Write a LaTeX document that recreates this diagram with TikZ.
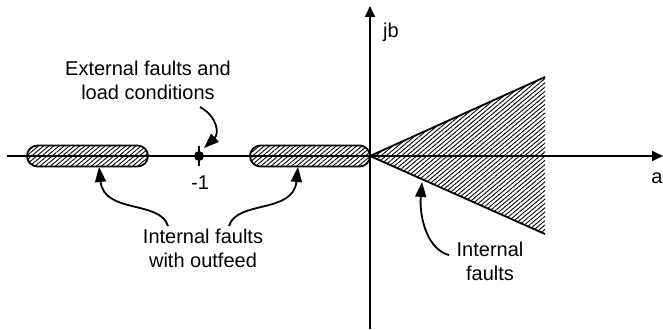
\documentclass[tikz,border=0pt]{standalone}
\usepackage{fontspec}
\setmainfont{Liberation Sans}
\usetikzlibrary{arrows.meta,patterns.meta}
\begin{document}
\begin{tikzpicture}[x=1pt,y=-1pt,
  lbl/.style={inner sep=0pt,align=center,font=\fontsize{20}{24}\selectfont},
  axis/.style={line width=1.8pt,-{Triangle[length=11pt,width=10pt]}},
  hatched/.style={pattern={Lines[angle=40,distance=3.3pt,line width=0.9pt]}},
  curvearrow/.style={line width=1.8pt,-{Triangle[length=15pt,width=11pt]}},
  edge/.style={line width=1.8pt}]
\useasboundingbox (0,0) rectangle (663,329);
% regions
\node[draw,edge,hatched,rounded corners=10.5pt,minimum width=121pt,minimum height=21pt,inner sep=0pt] (pillL) at (87.5,156) {};
\node[draw,edge,hatched,rounded corners=10.5pt,minimum width=120pt,minimum height=21pt,inner sep=0pt] (pillR) at (310,156) {};
\coordinate (O) at (370,156);
\coordinate (W1) at (545,77);
\coordinate (W2) at (545,234);
\fill[hatched] (O) -- (W1) -- (W2) -- cycle;
\draw[edge] (W1) -- (O) -- (W2);
% axes
\coordinate (xs) at (7,156);
\coordinate (xe) at (663,156);
\coordinate (ys) at (370,329);
\coordinate (ye) at (370,6);
\draw[axis] (xs) -- (xe);
\draw[axis] (ys) -- (ye);
\node[lbl] (jb) at (391,32) {jb};
\node[lbl] (a) at (657,178) {a};
% point -1
\node[circle,fill,inner sep=0pt,minimum size=10pt] (m1) at (199,156) {};
\draw[edge] (199,146) -- (199,166);
\node[lbl] (m1l) at (200,183) {-1};
% labels
\node[lbl] (ext) at (148,80) {External faults and\\load conditions};
\node[lbl] (iout) at (203,248) {Internal faults\\with outfeed};
\node[lbl] (iint) at (490,261) {Internal\\faults};
% arrows
\coordinate (extS) at (200,107);
\coordinate (extT) at (204,148);
\draw[curvearrow] (extS) .. controls (218,117) and (219,134) .. (extT);
\coordinate (oLS) at (168,226);
\coordinate (oLT) at (99,167);
\draw[curvearrow] (oLS) .. controls (160,200) and (104,214) .. (oLT);
\coordinate (oRS) at (229,226);
\coordinate (oRT) at (298,167);
\draw[curvearrow] (oRS) .. controls (237,200) and (293,214) .. (oRT);
\coordinate (iS) at (449,255);
\coordinate (iT) at (422,182);
\draw[curvearrow] (iS) .. controls (428,250) and (419,218) .. (iT);
\end{tikzpicture}
\end{document}
